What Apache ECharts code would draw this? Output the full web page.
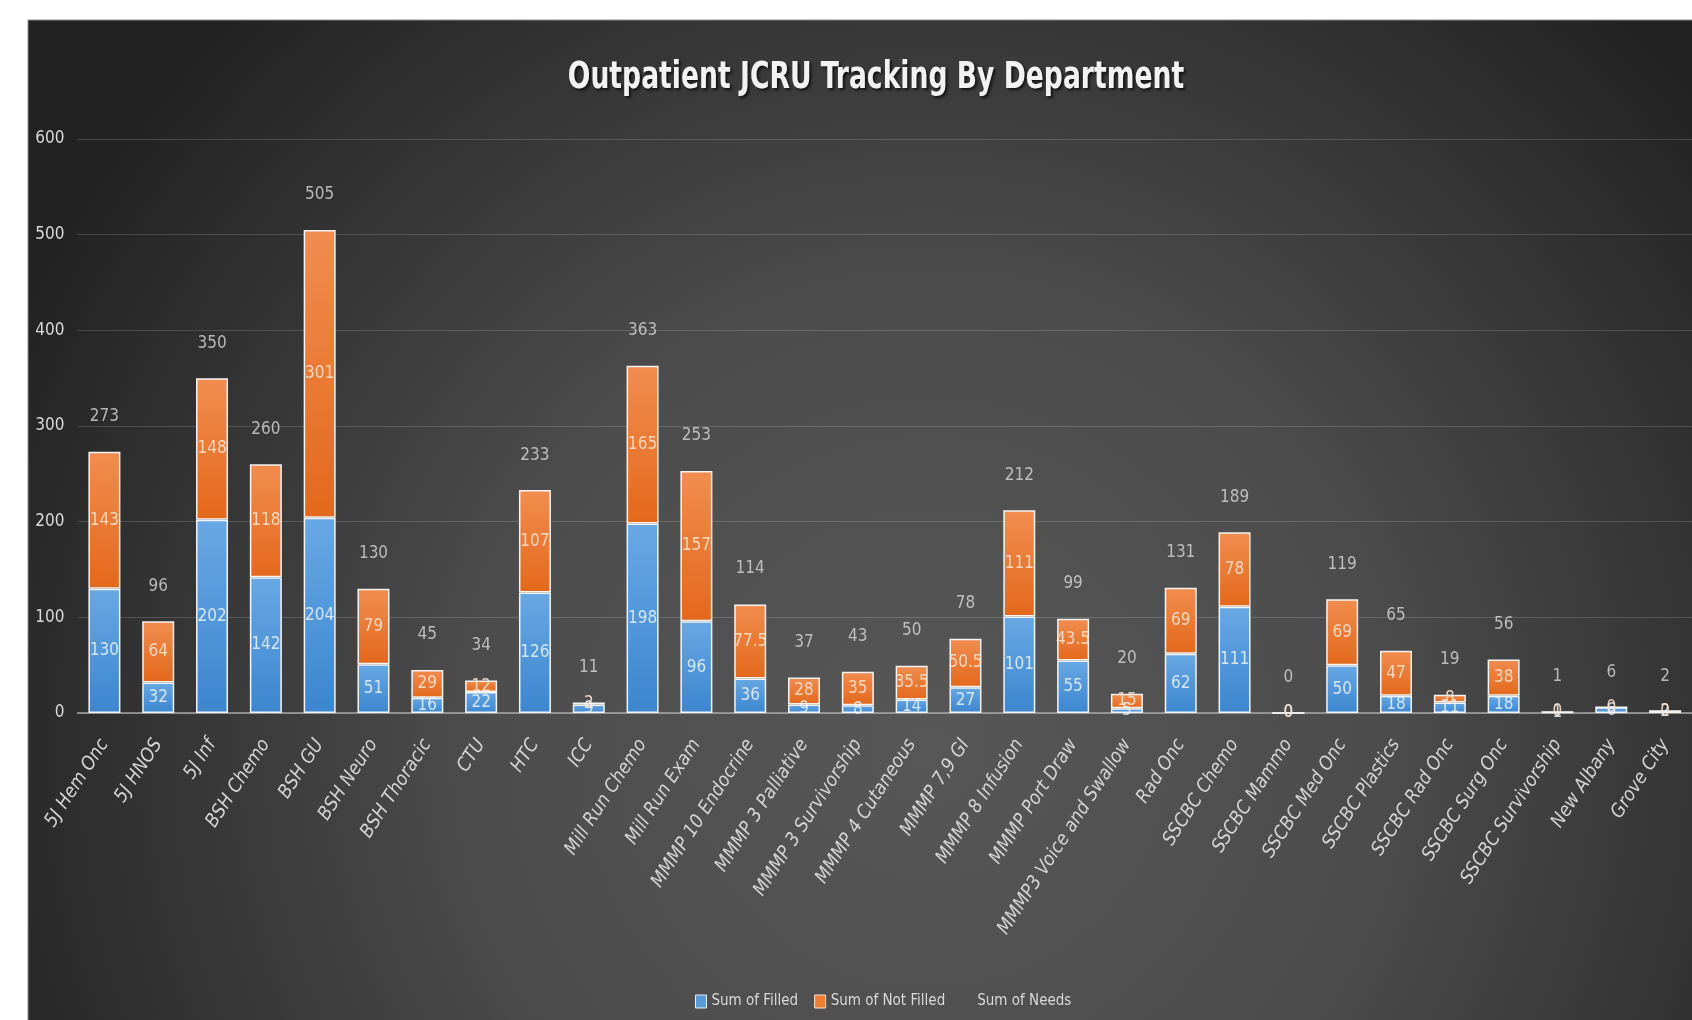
<!DOCTYPE html>
<html>
<head>
<meta charset="utf-8">
<script src="https://cdn.jsdelivr.net/npm/echarts@6/dist/echarts.min.js"></script>
<style>
html,body{margin:0;padding:0;background:#fff;}
#chart{width:1692px;height:1020px;}
</style>
</head>
<body>
<div id="chart"></div>
<script>
var categories = ['5J Hem Onc','5J HNOS','5J Inf','BSH Chemo','BSH GU','BSH Neuro','BSH Thoracic','CTU','HTC','ICC','Mill Run Chemo','Mill Run Exam','MMMP 10 Endocrine','MMMP 3 Palliative','MMMP 3 Survivorship','MMMP 4 Cutaneous','MMMP 7,9 GI','MMMP 8 Infusion','MMMP Port Draw','MMMP3 Voice and Swallow','Rad Onc','SSCBC Chemo','SSCBC Mammo','SSCBC Med Onc','SSCBC Plastics','SSCBC Rad Onc','SSCBC Surg Onc','SSCBC Survivorship','New Albany','Grove City'];
var filled = [130,32,202,142,204,51,16,22,126,9,198,96,36,9,8,14,27,101,55,5,62,111,0,50,18,11,18,1,6,2];
var notFilled = [143,64,148,118,301,79,29,12,107,2,165,157,77.5,28,35,35.5,50.5,111,43.5,15,69,78,0,69,47,8,38,0,0,0];
var needs = [273,96,350,260,505,130,45,34,233,11,363,253,114,37,43,50,78,212,99,20,131,189,0,119,65,19,56,1,6,2];
var yTicks = [0,100,200,300,400,500,600];

var FONT = '"DejaVu Sans Condensed","Liberation Sans",sans-serif';
var chart = echarts.init(document.getElementById('chart'), null, {renderer:'canvas'});

function grad(top, bottom){
  return new echarts.graphic.LinearGradient(0,0,0,1,[{offset:0,color:top},{offset:1,color:bottom}]);
}

var option = {
  backgroundColor: '#ffffff',
  animation: false,
  textStyle: {fontFamily: FONT},
  graphic: [
    {
      type: 'rect', z: -100, silent: true,
      shape: {x: 28, y: 20, width: 1700, height: 1010},
      style: {
        fill: new echarts.graphic.RadialGradient(0.53, 0.72, 1.0, [
          {offset: 0, color: '#575757'},
          {offset: 0.45, color: '#4c4c4c'},
          {offset: 1, color: '#222222'}
        ]),
        stroke: '#8a8a8a', lineWidth: 1
      }
    },
    {
      type: 'text', z: 100, x: 876, y: 78, scaleX: 0.8,
      style: {
        text: 'Outpatient JCRU Tracking By Department',
        fill: '#f2f2f2', font: 'bold 37px ' + FONT,
        textAlign: 'center', textVerticalAlign: 'middle',
        textShadowColor: 'rgba(0,0,0,0.7)', textShadowBlur: 3,
        textShadowOffsetX: 2, textShadowOffsetY: 2
      }
    }
  ],
  legend: {
    left: 690, top: 989,
    itemWidth: 11, itemHeight: 13, itemGap: 16,
    textStyle: {color: '#d9d9d9', fontSize: 15, fontFamily: FONT},
    data: [
      {name: 'Sum of Filled', icon: 'rect', itemStyle: {color: '#5b9bd5', borderColor: '#e8f0fa', borderWidth: 1}},
      {name: 'Sum of Not Filled', icon: 'rect', itemStyle: {color: '#ed7d31', borderColor: '#fbe3d2', borderWidth: 1}},
      {name: 'Sum of Needs', icon: 'rect', itemStyle: {color: 'rgba(0,0,0,0)', borderWidth: 0}}
    ]
  },
  grid: {left: 77.5, right: -13.5, top: 139, bottom: 307, containLabel: false},
  xAxis: {
    type: 'category',
    data: categories,
    axisLine: {show: true, lineStyle: {color: '#a6a6a6', width: 1.5}},
    axisTick: {show: false},
    axisLabel: {
      interval: 0, rotate: 57, margin: 28,
      color: '#d4d4d4', fontSize: 19, fontStyle: 'italic', fontFamily: FONT
    }
  },
  yAxis: {
    type: 'value', min: 0, max: 600, interval: 100,
    axisLine: {show: false}, axisTick: {show: false},
    axisLabel: {
      color: '#d9d9d9', fontSize: 17, margin: 13, fontFamily: FONT,
      formatter: function(v){ return yTicks.indexOf(v) >= 0 ? String(v) : ''; }
    },
    splitLine: {lineStyle: {color: 'rgba(255,255,255,0.16)', width: 1}}
  },
  series: [
    {
      name: 'Sum of Filled', type: 'bar', stack: 'total', barWidth: 32,
      data: filled,
      itemStyle: {color: grad('#68a8e4', '#3b86cf'), borderColor: '#f4f4f4', borderWidth: 1.5},
      label: {show: true, position: 'inside', color: 'rgba(235,243,252,0.85)', fontSize: 17, fontFamily: FONT}
    },
    {
      name: 'Sum of Not Filled', type: 'bar', stack: 'total', barWidth: 32,
      data: notFilled,
      itemStyle: {color: grad('#f18d50', '#e3681b'), borderColor: '#f4f4f4', borderWidth: 1.5},
      label: {show: true, position: 'inside', color: 'rgba(252,225,205,0.9)', fontSize: 17, fontFamily: FONT}
    },
    {
      name: 'Sum of Needs', type: 'scatter',
      data: needs, symbolSize: 1,
      itemStyle: {color: 'rgba(0,0,0,0)'},
      label: {show: true, position: 'top', distance: 26, color: '#d9d9d9', fontSize: 17, fontFamily: FONT},
      z: 5
    }
  ]
};
chart.setOption(option);
</script>
</body>
</html>
